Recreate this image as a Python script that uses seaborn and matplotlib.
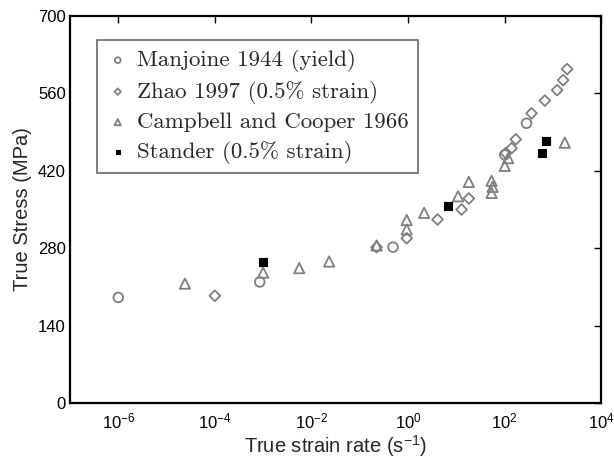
import numpy as np
import pandas as pd
import matplotlib
matplotlib.use("Agg")
import matplotlib.pyplot as plt
import seaborn as sns
from matplotlib.ticker import FixedLocator, NullLocator, LogFormatterMathtext

# ---- data ----
manjoine_rate = [1e-6, 8.5e-4, 0.49, 101, 285]
manjoine_stress = [191, 219, 282, 449, 506]

zhao_rate = [1e-4, 0.224, 0.94, 4.1, 12.9, 18.2, 106, 140, 171, 362, 683, 1227, 1634, 1977]
zhao_stress = [194, 282, 298, 332, 350, 370, 452, 461, 477, 524, 547, 566, 584, 604]

campbell_rate = [2.4e-5, 1e-3, 5.6e-3, 0.0233, 0.224, 0.94, 0.94, 2.16, 10.9, 18.2,
                 53.8, 56.5, 54, 101, 119, 1770]
campbell_stress = [216, 236, 244, 256, 285, 314, 331, 344, 374, 400,
                   402, 391, 380, 429, 443, 471]

stander_rate = [1e-3, 6.6, 583, 716]
stander_stress = [256, 356, 452, 474]

labels = ["Manjoine 1944 (yield)", "Zhao 1997 (0.5% strain)",
          "Campbell and Cooper 1966", "Stander (0.5% strain)"]
y_ticks = [0, 140, 280, 420, 560, 700]
x_ticks = [1e-6, 1e-4, 1e-2, 1e0, 1e2, 1e4]

sns.set_style("white")
plt.rcParams["font.family"] = ["Liberation Sans", "DejaVu Sans"]
plt.rcParams["mathtext.fontset"] = "custom"
plt.rcParams["mathtext.rm"] = "Liberation Sans"
plt.rcParams["mathtext.it"] = "Liberation Sans:italic"
plt.rcParams["mathtext.bf"] = "Liberation Sans:bold"

fig = plt.figure(figsize=(6.14, 4.58), dpi=100)
ax = fig.add_axes([0.114, 0.120, 0.865, 0.845])

grey = "#7f7f7f"
series = [
    (manjoine_rate, manjoine_stress, "o", 48, labels[0], False),
    (zhao_rate, zhao_stress, "D", 30, labels[1], False),
    (campbell_rate, campbell_stress, "^", 55, labels[2], False),
    (stander_rate, stander_stress, "s", 30, labels[3], True),
]
for xs, ys, mk, sz, lab, filled in series:
    df = pd.DataFrame({"rate": xs, "stress": ys})
    sns.scatterplot(data=df, x="rate", y="stress", marker=mk, s=sz, ax=ax,
                    color="black" if filled else grey, label=lab, zorder=3)
    coll = ax.collections[-1]
    if filled:
        coll.set_facecolor("black")
        coll.set_edgecolor("black")
        coll.set_linewidth(0.8)
    else:
        coll.set_facecolor("none")
        coll.set_edgecolor(grey)
        coll.set_linewidth(1.3)

ax.set_xscale("log")
ax.set_xlim(1e-7, 1e4)
ax.set_ylim(0, 700)
ax.xaxis.set_major_locator(FixedLocator(x_ticks))
ax.xaxis.set_major_formatter(LogFormatterMathtext())
ax.xaxis.set_minor_locator(NullLocator())
ax.yaxis.set_major_locator(FixedLocator(y_ticks))
ax.tick_params(direction="in", top=True, right=True, length=5, width=1.0,
               labelsize=12, colors="black")
ax.tick_params(axis="x", pad=6)
ax.tick_params(axis="y", pad=3)
for sp in ax.spines.values():
    sp.set_linewidth(1.6)
    sp.set_color("black")

ax.set_xlabel("True strain rate (s$^{-1}$)", fontsize=14.5, labelpad=1)
ax.set_ylabel("True Stress (MPa)", fontsize=14.5, labelpad=4)

leg = ax.legend(loc="upper left", bbox_to_anchor=(0.051, 0.938), borderaxespad=0,
                frameon=True, fancybox=False, markerscale=0.6,
                prop={"family": "cmr10", "size": 16.5},
                handletextpad=0.35, labelspacing=0.37, borderpad=0.4,
                handlelength=1.0)
leg.get_frame().set_edgecolor("#444444")
leg.get_frame().set_linewidth(1.2)

fig.savefig("out.png", dpi=100)
